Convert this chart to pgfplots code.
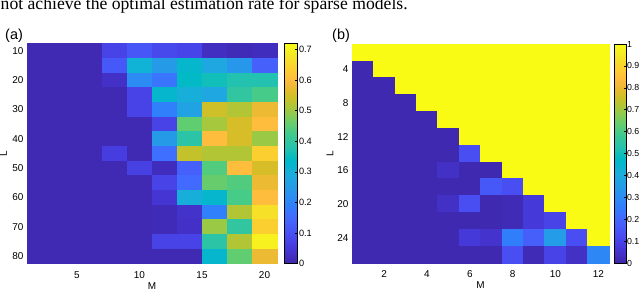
\documentclass[border=0pt]{standalone}
\usepackage{fontspec}
\setmainfont{Liberation Sans}
\newfontfamily\timesfont{Liberation Serif}
\usepackage{pgfplots}
\pgfplotsset{compat=1.18}
\pgfplotsset{colormap={parula}{
rgb=(0.2422,0.1504,0.6603) rgb=(0.2504,0.1650,0.7076) rgb=(0.2578,0.1818,0.7511) rgb=(0.2647,0.1978,0.7952)
rgb=(0.2706,0.2147,0.8364) rgb=(0.2751,0.2342,0.8710) rgb=(0.2783,0.2559,0.8991) rgb=(0.2803,0.2782,0.9221)
rgb=(0.2813,0.3006,0.9414) rgb=(0.2810,0.3228,0.9579) rgb=(0.2795,0.3447,0.9717) rgb=(0.2760,0.3667,0.9829)
rgb=(0.2699,0.3892,0.9906) rgb=(0.2602,0.4123,0.9952) rgb=(0.2440,0.4358,0.9988) rgb=(0.2206,0.4603,0.9973)
rgb=(0.1963,0.4847,0.9892) rgb=(0.1834,0.5074,0.9798) rgb=(0.1786,0.5289,0.9682) rgb=(0.1764,0.5499,0.9520)
rgb=(0.1687,0.5703,0.9359) rgb=(0.1540,0.5902,0.9218) rgb=(0.1460,0.6091,0.9079) rgb=(0.1380,0.6276,0.8973)
rgb=(0.1248,0.6459,0.8883) rgb=(0.1113,0.6635,0.8763) rgb=(0.0952,0.6798,0.8598) rgb=(0.0689,0.6948,0.8394)
rgb=(0.0297,0.7082,0.8163) rgb=(0.0036,0.7203,0.7917) rgb=(0.0067,0.7312,0.7660) rgb=(0.0433,0.7411,0.7394)
rgb=(0.0964,0.7500,0.7120) rgb=(0.1408,0.7584,0.6842) rgb=(0.1717,0.7670,0.6554) rgb=(0.1938,0.7758,0.6251)
rgb=(0.2161,0.7843,0.5923) rgb=(0.2470,0.7918,0.5567) rgb=(0.2906,0.7973,0.5188) rgb=(0.3406,0.8008,0.4789)
rgb=(0.3909,0.8029,0.4354) rgb=(0.4456,0.8024,0.3909) rgb=(0.5044,0.7993,0.3480) rgb=(0.5616,0.7942,0.3045)
rgb=(0.6174,0.7876,0.2612) rgb=(0.6720,0.7793,0.2227) rgb=(0.7242,0.7698,0.1910) rgb=(0.7738,0.7598,0.1646)
rgb=(0.8203,0.7498,0.1535) rgb=(0.8634,0.7406,0.1596) rgb=(0.9035,0.7330,0.1774) rgb=(0.9393,0.7288,0.2100)
rgb=(0.9728,0.7298,0.2394) rgb=(0.9956,0.7434,0.2371) rgb=(0.9970,0.7659,0.2199) rgb=(0.9952,0.7893,0.2028)
rgb=(0.9892,0.8136,0.1885) rgb=(0.9786,0.8386,0.1766) rgb=(0.9676,0.8639,0.1643) rgb=(0.9610,0.8890,0.1537)
rgb=(0.9597,0.9135,0.1423) rgb=(0.9628,0.9373,0.1265) rgb=(0.9691,0.9606,0.1064) rgb=(0.9769,0.9839,0.0805)
}}
\pgfplotsset{
  tick label style={font=\fontsize{10}{12}\selectfont},
  label style={font=\fontsize{10}{12}\selectfont},
  /pgf/number format/assume math mode=true,
  hm/.style={scale only axis, anchor=north west, y dir=reverse, axis on top,
    enlargelimits=false, tick align=inside, major tick length=3bp,
    tick style={black, line width=0.5bp}, axis line style={line width=0.5bp},
    colormap name=parula, colorbar, colorbar shift/.style={},
    xlabel={M}, ylabel={L},
    xlabel style={at={(axis description cs:0.5,0)}, anchor=north, yshift=-15.5bp},
    xticklabel style={yshift=-4.5bp},
  },
  cell/.style={scatter, only marks, mark=square*, point meta=explicit,
    scatter/use mapped color={draw=mapped color, fill=mapped color}},
  cb/.style={at={(parent axis.north east)}, anchor=north west, scale only axis,
    ytick pos=right, yticklabel pos=right, tick align=inside, major tick length=2bp,
    tick style={black, line width=0.5bp}, axis line style={line width=0.5bp},
    yticklabel style={inner sep=1.8bp,
      /pgf/number format/fixed, /pgf/number format/precision=1}},
}
\begin{document}
\begin{tikzpicture}
\begin{scope}
\clip (0,0) rectangle (640bp,-290bp);
\node[anchor=base west, inner sep=0, font=\timesfont\fontsize{17.7}{20}\selectfont] at (0.5bp,-9.5bp) {not achieve the optimal estimation rate for sparse models.};
\end{scope}
\node[anchor=base west, inner sep=0, font=\fontsize{14.5}{16}\selectfont] at (5bp,-39bp) {(a)};
\node[anchor=base west, inner sep=0, font=\fontsize{14.5}{16}\selectfont] at (332bp,-39bp) {(b)};

\begin{axis}[hm, at={(27bp,-43.5bp)}, width=250bp, height=220bp,
  xmin=1, xmax=21, ymin=7.5, ymax=82.5,
  xtick={5,10,15,20}, ytick={10,20,30,40,50,60,70,80},
  ylabel style={at={(axis description cs:0,0.5)}, anchor=center, yshift=23.5bp},
  point meta min=0, point meta max=0.72,
  colorbar style={cb, xshift=7bp, width=13bp, height=220bp,
    yticklabel style={font=\fontsize{9.2}{11}\selectfont},
    ytick={0,0.1,0.2,0.3,0.4,0.5,0.6,0.7}}]
\addplot[cell, mark size=12.5bp, mark options={yscale=0.58667, line width=0.6bp}] table[row sep=\\, meta=c]{
x y c\\
2 10 0.01\\ 4 10 0.01\\ 6 10 0.01\\ 8 10 0.072\\ 10 10 0.11\\ 12 10 0.085\\ 14 10 0.075\\ 16 10 0.025\\ 18 10 0.015\\ 20 10 0.02\\
2 15 0.01\\ 4 15 0.01\\ 6 15 0.01\\ 8 15 0.115\\ 10 15 0.31\\ 12 15 0.25\\ 14 15 0.325\\ 16 15 0.28\\ 18 15 0.24\\ 20 15 0.13\\
2 20 0.01\\ 4 20 0.01\\ 6 20 0.01\\ 8 20 0.03\\ 10 20 0.216\\ 12 20 0.17\\ 14 20 0.34\\ 16 20 0.36\\ 18 20 0.375\\ 20 20 0.375\\
2 25 0.01\\ 4 25 0.01\\ 6 25 0.01\\ 8 25 0.01\\ 10 25 0.072\\ 12 25 0.325\\ 14 25 0.30\\ 16 25 0.28\\ 18 25 0.40\\ 20 25 0.43\\
2 30 0.01\\ 4 30 0.01\\ 6 30 0.01\\ 8 30 0.01\\ 10 30 0.072\\ 12 30 0.19\\ 14 30 0.27\\ 16 30 0.545\\ 18 30 0.52\\ 20 30 0.58\\
2 35 0.01\\ 4 35 0.01\\ 6 35 0.01\\ 8 35 0.01\\ 10 35 0.01\\ 12 35 0.072\\ 14 35 0.455\\ 16 35 0.51\\ 18 35 0.555\\ 20 35 0.605\\
2 40 0.01\\ 4 40 0.01\\ 6 40 0.01\\ 8 40 0.01\\ 10 40 0.01\\ 12 40 0.25\\ 14 40 0.39\\ 16 40 0.605\\ 18 40 0.555\\ 20 40 0.50\\
2 45 0.01\\ 4 45 0.01\\ 6 45 0.01\\ 8 45 0.058\\ 10 45 0.01\\ 12 45 0.16\\ 14 45 0.535\\ 16 45 0.52\\ 18 45 0.52\\ 20 45 0.64\\
2 50 0.01\\ 4 50 0.01\\ 6 50 0.01\\ 8 50 0.01\\ 10 50 0.065\\ 12 50 0.02\\ 14 50 0.13\\ 16 50 0.44\\ 18 50 0.605\\ 20 50 0.555\\
2 55 0.01\\ 4 55 0.01\\ 6 55 0.01\\ 8 55 0.01\\ 10 55 0.01\\ 12 55 0.072\\ 14 55 0.15\\ 16 55 0.46\\ 18 55 0.44\\ 20 55 0.58\\
2 60 0.01\\ 4 60 0.01\\ 6 60 0.01\\ 8 60 0.01\\ 10 60 0.01\\ 12 60 0.043\\ 14 60 0.30\\ 16 60 0.325\\ 18 60 0.43\\ 20 60 0.605\\
2 65 0.01\\ 4 65 0.01\\ 6 65 0.01\\ 8 65 0.01\\ 10 65 0.01\\ 12 65 0.015\\ 14 65 0.035\\ 16 65 0.19\\ 18 65 0.52\\ 20 65 0.67\\
2 70 0.01\\ 4 70 0.01\\ 6 70 0.01\\ 8 70 0.01\\ 10 70 0.01\\ 12 70 0.015\\ 14 70 0.03\\ 16 70 0.50\\ 18 70 0.40\\ 20 70 0.64\\
2 75 0.01\\ 4 75 0.01\\ 6 75 0.01\\ 8 75 0.01\\ 10 75 0.01\\ 12 75 0.072\\ 14 75 0.072\\ 16 75 0.39\\ 18 75 0.52\\ 20 75 0.70\\
2 80 0.01\\ 4 80 0.01\\ 6 80 0.01\\ 8 80 0.01\\ 10 80 0.01\\ 12 80 0.01\\ 14 80 0.01\\ 16 80 0.325\\ 18 80 0.455\\ 20 80 0.58\\
};
\end{axis}

\begin{axis}[hm, at={(352bp,-44bp)}, width=257bp, height=219bp,
  xmin=0.5, xmax=12.5, ymin=1, ymax=27,
  xtick={2,4,6,8,10,12}, ytick={4,8,12,16,20,24},
  ylabel style={at={(axis description cs:0,0.5)}, anchor=center, yshift=22bp},
  point meta min=0, point meta max=1,
  colorbar style={cb, xshift=5bp, width=12bp, height=219bp,
    yticklabel style={font=\fontsize{8.8}{10}\selectfont, xshift=-1bp},
    ytick={0,0.1,0.2,0.3,0.4,0.5,0.6,0.7,0.8,0.9,1}}]
\addplot[cell, mark size=10.708bp, mark options={yscale=0.78659, line width=0.6bp}] table[row sep=\\, meta=c]{
x y c\\
1 2 1\\ 2 2 1\\ 3 2 1\\ 4 2 1\\ 5 2 1\\ 6 2 1\\ 7 2 1\\ 8 2 1\\ 9 2 1\\ 10 2 1\\ 11 2 1\\ 12 2 1\\
1 4 0.01\\ 2 4 1\\ 3 4 1\\ 4 4 1\\ 5 4 1\\ 6 4 1\\ 7 4 1\\ 8 4 1\\ 9 4 1\\ 10 4 1\\ 11 4 1\\ 12 4 1\\
1 6 0.01\\ 2 6 0.01\\ 3 6 1\\ 4 6 1\\ 5 6 1\\ 6 6 1\\ 7 6 1\\ 8 6 1\\ 9 6 1\\ 10 6 1\\ 11 6 1\\ 12 6 1\\
1 8 0.01\\ 2 8 0.01\\ 3 8 0.01\\ 4 8 1\\ 5 8 1\\ 6 8 1\\ 7 8 1\\ 8 8 1\\ 9 8 1\\ 10 8 1\\ 11 8 1\\ 12 8 1\\
1 10 0.01\\ 2 10 0.01\\ 3 10 0.01\\ 4 10 0.01\\ 5 10 1\\ 6 10 1\\ 7 10 1\\ 8 10 1\\ 9 10 1\\ 10 10 1\\ 11 10 1\\ 12 10 1\\
1 12 0.01\\ 2 12 0.01\\ 3 12 0.01\\ 4 12 0.01\\ 5 12 0.01\\ 6 12 1\\ 7 12 1\\ 8 12 1\\ 9 12 1\\ 10 12 1\\ 11 12 1\\ 12 12 1\\
1 14 0.01\\ 2 14 0.01\\ 3 14 0.01\\ 4 14 0.01\\ 5 14 0.01\\ 6 14 0.13\\ 7 14 1\\ 8 14 1\\ 9 14 1\\ 10 14 1\\ 11 14 1\\ 12 14 1\\
1 16 0.01\\ 2 16 0.01\\ 3 16 0.01\\ 4 16 0.01\\ 5 16 0.04\\ 6 16 0.01\\ 7 16 0.01\\ 8 16 1\\ 9 16 1\\ 10 16 1\\ 11 16 1\\ 12 16 1\\
1 18 0.01\\ 2 18 0.01\\ 3 18 0.01\\ 4 18 0.01\\ 5 18 0.01\\ 6 18 0.01\\ 7 18 0.16\\ 8 18 0.13\\ 9 18 1\\ 10 18 1\\ 11 18 1\\ 12 18 1\\
1 20 0.01\\ 2 20 0.01\\ 3 20 0.01\\ 4 20 0.01\\ 5 20 0.04\\ 6 20 0.13\\ 7 20 0.01\\ 8 20 0.02\\ 9 20 0.07\\ 10 20 1\\ 11 20 1\\ 12 20 1\\
1 22 0.01\\ 2 22 0.01\\ 3 22 0.01\\ 4 22 0.01\\ 5 22 0.01\\ 6 22 0.01\\ 7 22 0.01\\ 8 22 0.02\\ 9 22 0.07\\ 10 22 0.10\\ 11 22 1\\ 12 22 1\\
1 24 0.01\\ 2 24 0.01\\ 3 24 0.01\\ 4 24 0.01\\ 5 24 0.01\\ 6 24 0.07\\ 7 24 0.05\\ 8 24 0.26\\ 9 24 0.18\\ 10 24 0.35\\ 11 24 0.13\\ 12 24 1\\
1 26 0.01\\ 2 26 0.01\\ 3 26 0.01\\ 4 26 0.01\\ 5 26 0.01\\ 6 26 0.01\\ 7 26 0.01\\ 8 26 0.13\\ 9 26 0.02\\ 10 26 0.10\\ 11 26 0.04\\ 12 26 0.29\\
};
\end{axis}
\pgfresetboundingbox
\path[use as bounding box] (0,0) rectangle (640bp,-290bp);
\end{tikzpicture}
\end{document}
